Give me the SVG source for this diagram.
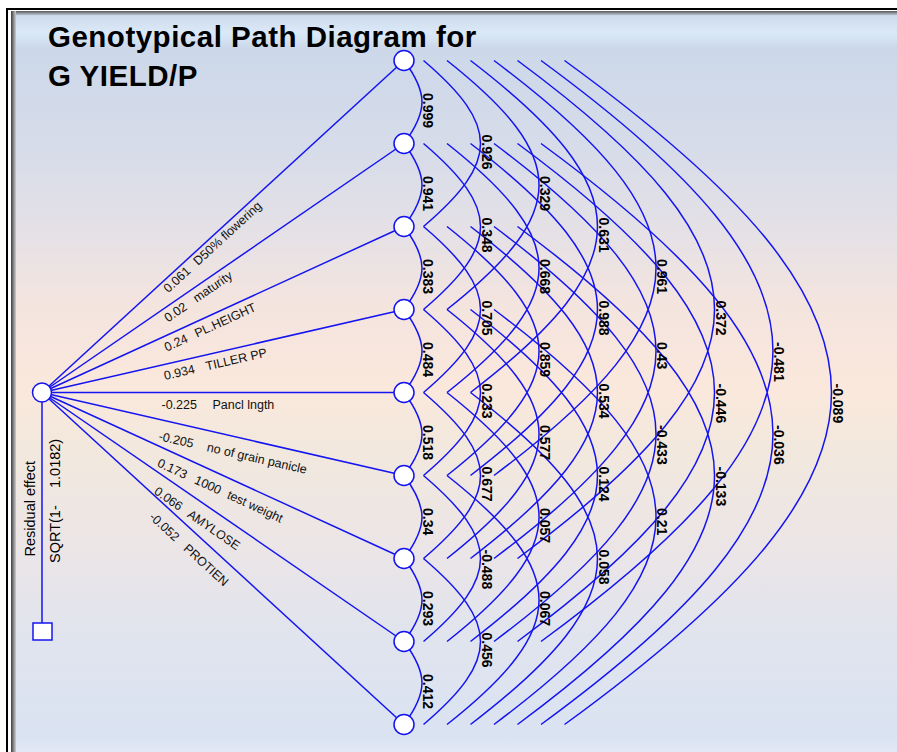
<svg xmlns="http://www.w3.org/2000/svg" width="897" height="752" viewBox="0 0 897 752">
<defs>
<linearGradient id="bg" x1="0" y1="11" x2="0" y2="752" gradientUnits="userSpaceOnUse">
<stop offset="0" stop-color="#b9c4d3"/>
<stop offset="0.008" stop-color="#d0dced"/>
<stop offset="0.03" stop-color="#dae9f8"/>
<stop offset="0.05" stop-color="#ccd8e9"/>
<stop offset="0.19" stop-color="#d7dce9"/>
<stop offset="0.3" stop-color="#e5e1e6"/>
<stop offset="0.39" stop-color="#f3e4df"/>
<stop offset="0.51" stop-color="#fbe8dc"/>
<stop offset="0.59" stop-color="#f2e8dd"/>
<stop offset="0.73" stop-color="#ebe5e7"/>
<stop offset="0.85" stop-color="#e0e4ee"/>
<stop offset="0.98" stop-color="#dae3f2"/>
<stop offset="1" stop-color="#e2e9f5"/>
</linearGradient>
<linearGradient id="lb" x1="0" y1="0" x2="1" y2="0">
<stop offset="0" stop-color="#3c3c3c"/>
<stop offset="0.4" stop-color="#777"/>
<stop offset="1" stop-color="#c9ced8"/>
</linearGradient>
<linearGradient id="tb" x1="0" y1="0" x2="0" y2="1">
<stop offset="0" stop-color="#555"/>
<stop offset="0.5" stop-color="#8a8f98"/>
<stop offset="1" stop-color="#b8c3d2"/>
</linearGradient>
</defs>
<style>
.ln{stroke:#1414f0;stroke-width:1.5;fill:none}
.nd{fill:#fff;stroke:#1414f0;stroke-width:1.5}
.cv{font-family:"Liberation Sans",Arial,sans-serif;font-size:14px;font-weight:bold;fill:#000}
.lb{font-family:"Liberation Sans",Arial,sans-serif;font-size:12.5px;fill:#111}
.rs{font-family:"Liberation Sans",Arial,sans-serif;font-size:14.5px;fill:#000}
.tt{font-family:"Liberation Sans",Arial,sans-serif;font-size:29.5px;font-weight:bold;letter-spacing:0.5px;fill:#000}
</style>
<rect x="0" y="0" width="897" height="752" fill="#fff"/>
<rect x="7" y="9" width="900" height="760" fill="none" stroke="#000" stroke-width="2"/>
<rect x="11" y="11" width="886" height="741" fill="url(#bg)"/>
<rect x="11" y="11" width="886" height="4" fill="url(#tb)"/>
<rect x="11" y="11" width="5" height="741" fill="url(#lb)"/>

<g id="title">
<text class="tt" x="48" y="47">Genotypical Path Diagram for</text>
<text class="tt" x="48" y="85.5">G YIELD/P</text>
</g>

<g id="connectors">
<line class="ln" x1="42" y1="392.5" x2="404" y2="60.5"/>
<line class="ln" x1="42" y1="392.5" x2="404" y2="143.5"/>
<line class="ln" x1="42" y1="392.5" x2="404" y2="226.5"/>
<line class="ln" x1="42" y1="392.5" x2="404" y2="309.5"/>
<line class="ln" x1="42" y1="392.5" x2="404" y2="392.5"/>
<line class="ln" x1="42" y1="392.5" x2="404" y2="475.5"/>
<line class="ln" x1="42" y1="392.5" x2="404" y2="558.5"/>
<line class="ln" x1="42" y1="392.5" x2="404" y2="641.5"/>
<line class="ln" x1="42" y1="392.5" x2="404" y2="724.5"/>
<line class="ln" x1="42" y1="402" x2="42" y2="623"/>
<path class="ln" d="M404 60.5C428 92.9 428 111.1 404 143.5M404 143.5C428 175.9 428 194.1 404 226.5M404 226.5C428 258.9 428 277.1 404 309.5M404 309.5C428 341.9 428 360.1 404 392.5M404 392.5C428 424.9 428 443.1 404 475.5M404 475.5C428 507.9 428 526.1 404 558.5M404 558.5C428 590.9 428 609.1 404 641.5M404 641.5C428 673.9 428 692.1 404 724.5"/>
<path class="ln" d="M423.5 60.5C499.5 125.2 499.5 161.8 423.5 226.5M423.5 143.5C499.5 208.2 499.5 244.8 423.5 309.5M423.5 226.5C499.5 291.2 499.5 327.8 423.5 392.5M423.5 309.5C499.5 374.2 499.5 410.8 423.5 475.5M423.5 392.5C499.5 457.2 499.5 493.8 423.5 558.5M423.5 475.5C499.5 540.2 499.5 576.8 423.5 641.5M423.5 558.5C499.5 623.2 499.5 659.8 423.5 724.5"/>
<path class="ln" d="M447 60.5C569.7 157.6 569.7 212.4 447 309.5M447 143.5C569.7 240.6 569.7 295.4 447 392.5M447 226.5C569.7 323.6 569.7 378.4 447 475.5M447 309.5C569.7 406.6 569.7 461.4 447 558.5M447 392.5C569.7 489.6 569.7 544.4 447 641.5M447 475.5C569.7 572.6 569.7 627.4 447 724.5"/>
<path class="ln" d="M470.5 60.5C639.8 190 639.8 263 470.5 392.5M470.5 143.5C639.8 273 639.8 346 470.5 475.5M470.5 226.5C639.8 356 639.8 429 470.5 558.5M470.5 309.5C639.8 439 639.8 512 470.5 641.5M470.5 392.5C639.8 522 639.8 595 470.5 724.5"/>
<path class="ln" d="M494 60.5C710 222.4 710 313.6 494 475.5M494 143.5C710 305.4 710 396.6 494 558.5M494 226.5C710 388.4 710 479.6 494 641.5M494 309.5C710 471.4 710 562.6 494 724.5"/>
<path class="ln" d="M517.5 60.5C780.2 254.7 780.2 364.3 517.5 558.5M517.5 143.5C780.2 337.7 780.2 447.3 517.5 641.5M517.5 226.5C780.2 420.7 780.2 530.3 517.5 724.5"/>
<path class="ln" d="M541 60.5C850.3 287.1 850.3 414.9 541 641.5M541 143.5C850.3 370.1 850.3 497.9 541 724.5"/>
<path class="ln" d="M564.5 60.5C920.5 319.5 920.5 465.5 564.5 724.5"/>

<g id="path-labels">
<g transform="translate(168.3,293.3) rotate(-42.53)"><text class="lb">0.061<tspan dx="9">D50% flowering</tspan></text></g>
<g transform="translate(168,322.5) rotate(-34.52)"><text class="lb">0.02<tspan dx="10.5">maturity</tspan></text></g>
<g transform="translate(166.7,351.7) rotate(-24.63)"><text class="lb">0.24<tspan dx="9">PL.HEIGHT</tspan></text></g>
<g transform="translate(165,380) rotate(-12.91)"><text class="lb">0.934<tspan dx="11.5">TILLER PP</tspan></text></g>
<text class="lb" x="161.5" y="408.5">-0.225<tspan dx="15.5">Pancl lngth</tspan></text>
<g transform="translate(158,440) rotate(12.91)"><text class="lb">-0.205<tspan dx="14">no of grain panicle</tspan></text></g>
<g transform="translate(156.5,466) rotate(24.63)"><text class="lb">0.173<tspan dx="9.5">1000</tspan><tspan dx="8">test weight</tspan></text></g>
<g transform="translate(153.3,493.3) rotate(34.52)"><text class="lb">0.066<tspan dx="9">AMYLOSE</tspan></text></g>
<g transform="translate(148.5,518) rotate(42.53)"><text class="lb">-0.052<tspan dx="11">PROTIEN</tspan></text></g>
</g>

<g id="correlation-labels">
<text class="cv" transform="translate(423,93) rotate(90)">0.999</text>
<text class="cv" transform="translate(423,176) rotate(90)">0.941</text>
<text class="cv" transform="translate(423,259) rotate(90)">0.383</text>
<text class="cv" transform="translate(423,342) rotate(90)">0.484</text>
<text class="cv" transform="translate(423,425) rotate(90)">0.518</text>
<text class="cv" transform="translate(423,508) rotate(90)">0.34</text>
<text class="cv" transform="translate(423,591) rotate(90)">0.293</text>
<text class="cv" transform="translate(423,674) rotate(90)">0.412</text>
<text class="cv" transform="translate(481.5,134.5) rotate(90)">0.926</text>
<text class="cv" transform="translate(481.5,217.5) rotate(90)">0.348</text>
<text class="cv" transform="translate(481.5,300.5) rotate(90)">0.705</text>
<text class="cv" transform="translate(481.5,383.5) rotate(90)">0.233</text>
<text class="cv" transform="translate(481.5,466.5) rotate(90)">0.677</text>
<text class="cv" transform="translate(481.5,549.5) rotate(90)">-0.488</text>
<text class="cv" transform="translate(481.5,632.5) rotate(90)">0.456</text>
<text class="cv" transform="translate(540,176) rotate(90)">0.329</text>
<text class="cv" transform="translate(540,259) rotate(90)">0.668</text>
<text class="cv" transform="translate(540,342) rotate(90)">0.859</text>
<text class="cv" transform="translate(540,425) rotate(90)">0.577</text>
<text class="cv" transform="translate(540,508) rotate(90)">0.057</text>
<text class="cv" transform="translate(540,591) rotate(90)">0.067</text>
<text class="cv" transform="translate(598.5,217.5) rotate(90)">0.631</text>
<text class="cv" transform="translate(598.5,300.5) rotate(90)">0.988</text>
<text class="cv" transform="translate(598.5,383.5) rotate(90)">0.534</text>
<text class="cv" transform="translate(598.5,466.5) rotate(90)">0.124</text>
<text class="cv" transform="translate(598.5,549.5) rotate(90)">0.058</text>
<text class="cv" transform="translate(657,259) rotate(90)">0.961</text>
<text class="cv" transform="translate(657,342) rotate(90)">0.43</text>
<text class="cv" transform="translate(657,425) rotate(90)">-0.433</text>
<text class="cv" transform="translate(657,508) rotate(90)">0.21</text>
<text class="cv" transform="translate(715.5,300.5) rotate(90)">0.372</text>
<text class="cv" transform="translate(715.5,383.5) rotate(90)">-0.446</text>
<text class="cv" transform="translate(715.5,466.5) rotate(90)">-0.133</text>
<text class="cv" transform="translate(774,342) rotate(90)">-0.481</text>
<text class="cv" transform="translate(774,425) rotate(90)">-0.036</text>
<text class="cv" transform="translate(832.5,383.5) rotate(90)">-0.089</text>
</g>
</g>

<g id="n-yield"><circle class="nd" cx="42" cy="392.5" r="9.5"/></g>
<g id="residual">
<rect class="nd" x="33" y="623" width="19" height="17"/>
<text class="rs" transform="translate(35,556.5) rotate(-90)">Residual effect</text>
<text class="rs" font-size="14" transform="translate(60,563) rotate(-90)">SQRT(1-</text>
<text class="rs" font-size="14" transform="translate(60,488) rotate(-90)">1.0182)</text>
</g>
<g id="n1"><circle class="nd" cx="404" cy="60.5" r="10"/></g>
<g id="n2"><circle class="nd" cx="404" cy="143.5" r="10"/></g>
<g id="n3"><circle class="nd" cx="404" cy="226.5" r="10"/></g>
<g id="n4"><circle class="nd" cx="404" cy="309.5" r="10"/></g>
<g id="n5"><circle class="nd" cx="404" cy="392.5" r="10"/></g>
<g id="n6"><circle class="nd" cx="404" cy="475.5" r="10"/></g>
<g id="n7"><circle class="nd" cx="404" cy="558.5" r="10"/></g>
<g id="n8"><circle class="nd" cx="404" cy="641.5" r="10"/></g>
<g id="n9"><circle class="nd" cx="404" cy="724.5" r="10"/></g>
</svg>
